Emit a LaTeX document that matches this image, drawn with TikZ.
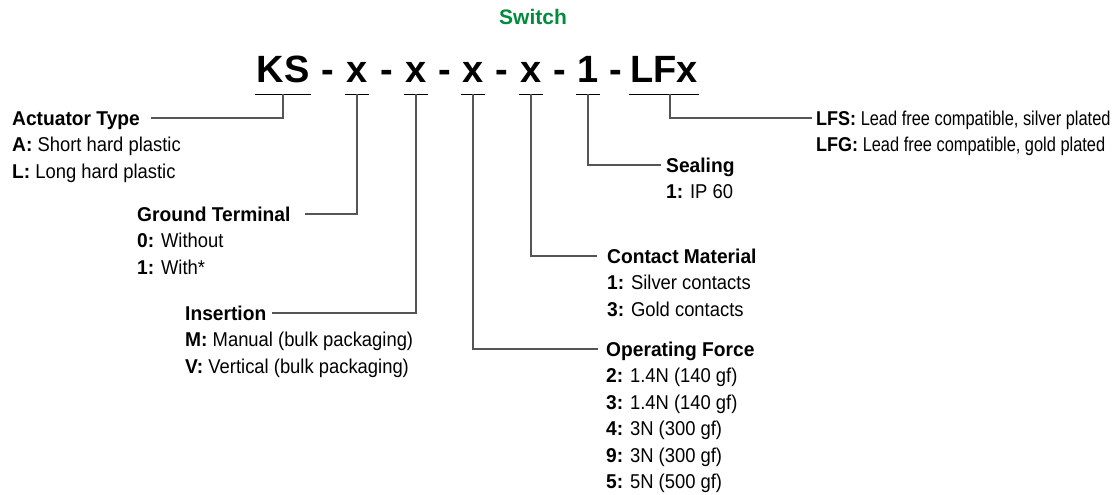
\documentclass[tikz,border=0pt]{standalone}
\usepackage{fontspec}
\setmainfont{Liberation Sans}
\newfontfamily\condfont[FakeStretch=0.92, BoldFeatures={FakeStretch=0.96}]{Liberation Sans}
\newfontfamily\narrowfont[FakeStretch=0.82, BoldFeatures={FakeStretch=0.9}]{Liberation Sans}

\definecolor{switchgreen}{RGB}{0,140,60}
\definecolor{leadgray}{RGB}{85,85,85}

\tikzset{
  codepart/.style={font=\fontsize{38}{38}\selectfont\bfseries, anchor=base,
    inner xsep=1pt, inner ysep=0pt, text depth=11pt},
  fieldname/.style={font=\condfont\fontsize{20}{20}\selectfont\bfseries, anchor=base west,
    inner sep=0pt, text height=14pt, text depth=0pt},
  fielditem/.style={font=\condfont\fontsize{20}{20}\selectfont, anchor=base west,
    inner sep=0pt, text height=14pt, text depth=0pt},
  uline/.style={line width=1pt, black},
  lead/.style={line width=1.2pt, leadgray},
}

\begin{document}
\begin{tikzpicture}[x=1pt,y=-1pt]
  \useasboundingbox (0,0) rectangle (1114,495);

  \node[font=\fontsize{21}{21}\selectfont\bfseries, text=switchgreen, anchor=base, inner sep=0pt] (switch) at (533,25) {Switch};

  % ordering code
  \node[codepart] (ks) at (283,83) {KS};
  \node[codepart] (x1) at (357,83) {x};
  \node[codepart] (x2) at (416,83) {x};
  \node[codepart] (x3) at (473,83) {x};
  \node[codepart] (x4) at (531,83) {x};
  \node[codepart] (one) at (588,83) {1};
  \node[codepart] (lfx) at (664,83) {LFx};
  \foreach \p [count=\i] in {328,386.5,444.5,502,559.5,616}
    \node[codepart] (dash\i) at (\p,83) {-};
  \foreach \n in {ks,x1,x2,x3,x4,one,lfx}
    \draw[uline] (\n.south west) -- (\n.south east);

  % fields
  \node[fieldname] (act) at (12,125) {Actuator Type};
  \foreach \k/\t [count=\i] in {A/Short hard plastic, L/Long hard plastic}
    \node[fielditem] (act\i) at (12,{125+26.5*\i}) {\textbf{\k:} \t};

  \node[fieldname] (gnd) at (137,221) {Ground Terminal};
  \foreach \k/\t [count=\i] in {0/Without, 1/With*}
    \node[fielditem] (gnd\i) at (137,{221+26.5*\i}) {\textbf{\k:} \t};

  \node[fieldname] (ins) at (185,320) {Insertion};
  \foreach \k/\t [count=\i] in {M/Manual (bulk packaging), V/Vertical (bulk packaging)}
    \node[fielditem] (ins\i) at (185,{320+26.5*\i}) {\textbf{\k:} \t};

  \node[fieldname] (seal) at (666,172) {Sealing};
  \node[fielditem] (seal1) at (666,198) {\textbf{1:} IP 60};

  \node[fieldname] (cont) at (607,263) {Contact Material};
  \foreach \k/\t [count=\i] in {1/Silver contacts, 3/Gold contacts}
    \node[fielditem] (cont\i) at (607,{263+26.5*\i}) {\textbf{\k:} \t};

  \node[fieldname] (force) at (606,356) {Operating Force};
  \foreach \k/\t [count=\i] in {2/1.4N (140 gf), 3/1.4N (140 gf), 4/3N (300 gf), 9/3N (300 gf), 5/5N (500 gf)}
    \node[fielditem] (force\i) at (606,{356+26.5*\i}) {\textbf{\k:} \t};

  \foreach \k/\t [count=\i] in {LFS/{Lead free compatible, silver plated}, LFG/{Lead free compatible, gold plated}}
    \node[fielditem, font=\narrowfont\fontsize{20}{20}\selectfont] (lf\i) at (816,{99+26*\i}) {\textbf{\k:} \t};

  % leaders
  \draw[lead] (ks.south) |- ([xshift=11pt]act.east);
  \draw[lead] (x1.south) |- ([xshift=14pt]gnd.east);
  \draw[lead] (x2.south) |- ([xshift=6pt]ins.east);
  \draw[lead] (x3.south) |- ([xshift=-8pt]force.west);
  \draw[lead] (x4.south) |- ([xshift=-10pt]cont.west);
  \draw[lead] (one.south) |- ([xshift=-5pt]seal.west);
  \draw[lead] ([xshift=6pt]lfx.south) |- ([xshift=-4pt]lf1.west);
\end{tikzpicture}
\end{document}
